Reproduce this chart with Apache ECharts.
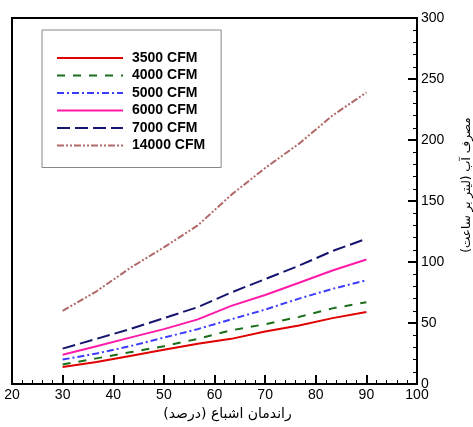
<!DOCTYPE html>
<html><head><meta charset="utf-8">
<script src="https://cdn.jsdelivr.net/npm/echarts@6/dist/echarts.min.js"></script>
<style>html,body{margin:0;padding:0;background:#fff}#c{width:473px;height:427px}</style>
</head><body><div id="c"></div>
<script>
const efficiency = [30, 36.7, 43.3, 50, 56.7, 63.3, 70, 76.7, 83.3, 90];
const cfm3500  = [14, 18, 23, 28, 33, 37, 43, 48, 54, 59];
const cfm4000  = [16, 21, 26, 31, 37, 44, 49, 55, 62, 67];
const cfm5000  = [20, 25, 31, 38, 45, 53, 61, 70, 78, 85];
const cfm6000  = [24, 31, 38, 45, 53, 64, 73, 83, 93, 102];
const cfm7000  = [29, 37, 45, 54, 63, 75, 86, 97, 109, 119];
const cfm14000 = [60, 76, 95, 112, 130, 155, 177, 197, 220, 239];
const seriesNames = ['3500 CFM', '4000 CFM', '5000 CFM', '6000 CFM', '7000 CFM', '14000 CFM'];
const xName = 'راندمان اشباع (درصد)';
const yName = 'مصرف آب (لیتر بر ساعت)';

const styles = [
  {color: '#e00000', type: 'solid'},
  {color: '#1a6e1a', type: [8, 8]},
  {color: '#3c3cff', type: [7, 3, 2, 3]},
  {color: '#ff1aa8', type: 'solid'},
  {color: '#15156e', type: [13, 5]},
  {color: '#b06868', type: [7, 2, 2, 2, 2, 2]}
];
const values = [cfm3500, cfm4000, cfm5000, cfm6000, cfm7000, cfm14000];

const chart = echarts.init(document.getElementById('c'), null, {renderer: 'canvas'});
chart.setOption({
  animation: false,
  backgroundColor: '#fff',
  grid: {left: 12, right: 56, top: 18, bottom: 43, outerBoundsMode: 'none', containLabel: false, show: true, borderColor: '#000', borderWidth: 2, backgroundColor: 'transparent'},
  legend: {
    orient: 'vertical', left: 42, top: 30,
    backgroundColor: '#fff', borderColor: '#888', borderWidth: 1,
    padding: [21, 16, 15, 14],
    itemWidth: 66, itemHeight: 14, itemGap: 3.5,
    itemStyle: {opacity: 0},
    textStyle: {fontFamily: 'Liberation Sans, Arial, sans-serif', fontWeight: 'bold', fontSize: 14, color: '#000', padding: [0, 0, 0, 4]},
    data: seriesNames
  },
  xAxis: {
    type: 'value', min: 20, max: 100, interval: 10,
    name: xName, nameLocation: 'middle', nameGap: 22,
    nameTextStyle: {fontFamily: 'DejaVu Sans', fontSize: 14, color: '#000', padding: [0, 0, 0, 26]},
    axisLine: {show: true, lineStyle: {color: '#000', width: 2}},
    axisTick: {show: true, inside: true, length: 9, lineStyle: {color: '#000', width: 2}},
    minorTick: {show: true, splitNumber: 5, length: 4, lineStyle: {color: '#000', width: 1}},
    axisLabel: {fontFamily: 'Liberation Sans, Arial, sans-serif', fontSize: 14, color: '#000', margin: 4},
    splitLine: {show: false}
  },
  yAxis: {
    type: 'value', position: 'right', min: 0, max: 300, interval: 50,
    name: yName, nameLocation: 'middle', nameGap: 44, nameRotate: 90,
    nameTextStyle: {fontFamily: 'DejaVu Sans', fontSize: 12, color: '#000', padding: [0, 0, 0, 32]},
    axisLine: {show: true, lineStyle: {color: '#000', width: 2}},
    axisTick: {show: true, inside: true, length: 9, lineStyle: {color: '#000', width: 2}},
    minorTick: {show: true, splitNumber: 5, length: 4, lineStyle: {color: '#000', width: 1}},
    axisLabel: {fontFamily: 'Liberation Sans, Arial, sans-serif', fontSize: 14, color: '#000', margin: 4},
    splitLine: {show: false}
  },
  series: seriesNames.map((n, i) => ({
    name: n, type: 'line', symbol: 'none', showSymbol: false,
    color: styles[i].color,
    lineStyle: {color: styles[i].color, width: 2, type: styles[i].type},
    data: efficiency.map((x, j) => [x, values[i][j]])
  }))
});
</script></body></html>
